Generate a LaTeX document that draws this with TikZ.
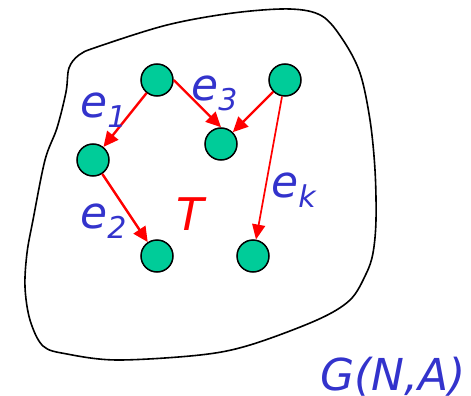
\documentclass[tikz,border=0pt]{standalone}
\usepackage{fontspec}
\setmainfont{DejaVu Sans}
\usetikzlibrary{arrows.meta}
\definecolor{nodegreen}{RGB}{0,204,153}
\definecolor{lblblue}{RGB}{51,51,204}
\newcommand{\subfont}{\fontsize{30}{30}\selectfont}
\tikzset{
  vert/.style={circle, draw=black, line width=1.5pt, fill=nodegreen, minimum size=32pt, inner sep=0pt},
  edge/.style={draw=red, line width=2.4pt, -{Triangle[length=15pt,width=14pt]}},
  thinedge/.style={draw=red, line width=1.7pt, -{Triangle[length=15pt,width=13pt]}},
  lbl/.style={text=lblblue, font=\fontsize{44}{44}\selectfont\itshape, inner sep=0pt, anchor=base west},
}
\begin{document}
\begin{tikzpicture}[x=1pt,y=-1pt]
\useasboundingbox (0,0) rectangle (471,396);
% region outline
\draw[line width=1.6pt, black] plot[smooth cycle, tension=0.55] coordinates {
 (66,92) (69,68) (79,55) (97,47) (167,25) (233,13) (290,9) (322,16) (343,40)
 (360,73) (370,120) (375,170) (376,220) (373,253) (366,274) (350,300) (317,320)
 (250,345) (200,355) (117,360) (67,354) (43,346) (30,320) (25,287) (27,253)
 (33,220) (45,160) (57,128)};
% vertices
\node[vert] (n1) at (157,80) {};
\node[vert] (n3) at (285,80) {};
\node[vert] (n2) at (93,160) {};
\node[vert] (n4) at (221,144) {};
\node[vert] (n5) at (157,256) {};
\node[vert] (n6) at (253,256) {};
% edges
\draw[edge] (n1) -- (n2);
\draw[edge] (n2) -- (n5);
\draw[edge] (n1.east) -- (n4.north);
\draw[edge] (n3) -- (n4);
\draw[thinedge] (n3) -- (n6);
% labels
\node[lbl] (l1) at (80,117) {e\raisebox{-10pt}{\subfont 1}};
\node[lbl] (l2) at (80,228) {e\raisebox{-10pt}{\subfont 2}};
\node[lbl] (l3) at (191,100) {e\raisebox{-10pt}{\subfont 3}};
\node[lbl] (lk) at (271,197) {e\raisebox{-10pt}{\subfont k}};
\node[lbl, text=red, font=\fontsize{45}{45}\selectfont\itshape] (T) at (176,230) {T};
\node[lbl] (G) at (320,390) {G(N,A)};
\end{tikzpicture}
\end{document}
